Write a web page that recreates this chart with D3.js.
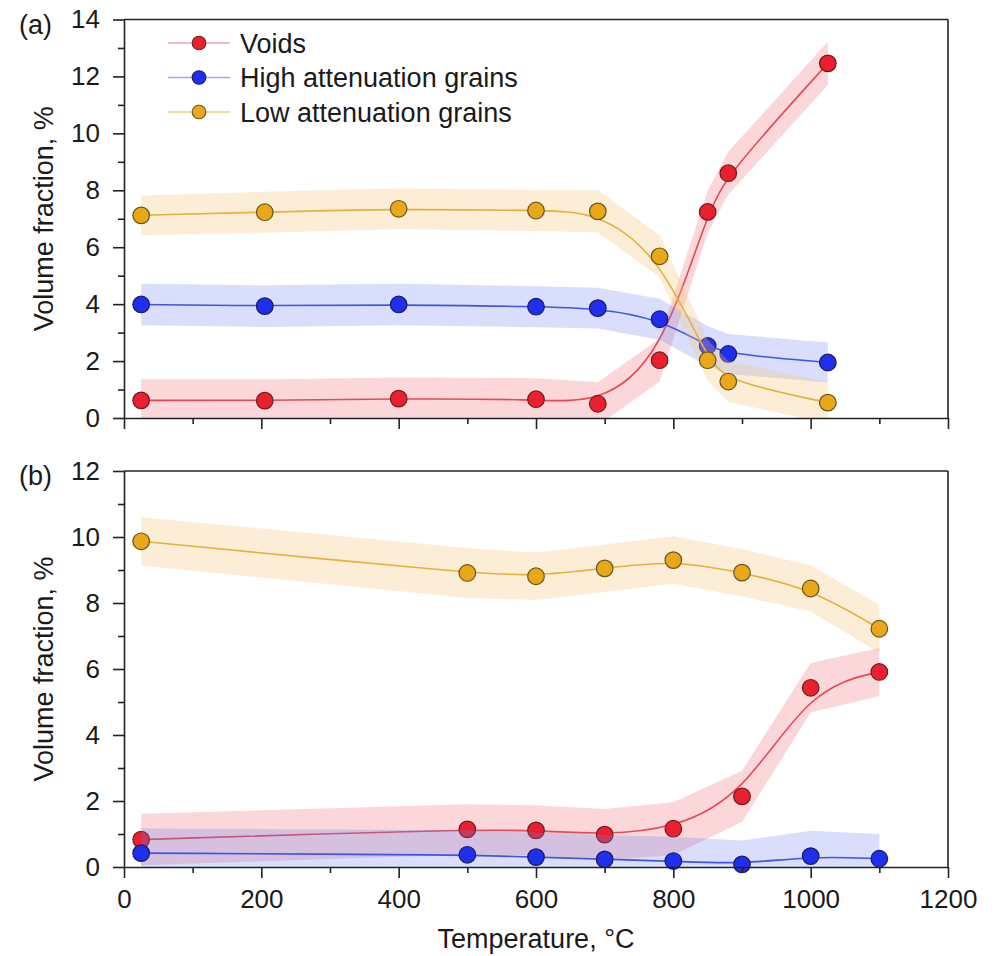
<!DOCTYPE html>
<html><head><meta charset="utf-8">
<script src="https://cdn.jsdelivr.net/npm/d3@7"></script>
<style>
body{margin:0;background:#fff}
text{font-family:"Liberation Sans",Arial,Helvetica,sans-serif;fill:#1a1a1a}
</style>
</head><body><svg id="c" width="999" height="956"></svg>
<script>
// ---------- data ----------
const seriesNames = ["Voids", "High attenuation grains", "Low attenuation grains"];
const xTicks = [0, 200, 400, 600, 800, 1000, 1200];
const yTicksA = [0, 2, 4, 6, 8, 10, 12, 14];
const yTicksB = [0, 2, 4, 6, 8, 10, 12];

// panel (a)
const tempA  = [25, 205, 400, 600, 690, 780, 850, 880, 1025];
const voidsA = [0.62, 0.61, 0.68, 0.66, 0.50, 2.03, 7.24, 8.60, 12.46];
const highA  = [3.99, 3.93, 3.99, 3.91, 3.86, 3.47, 2.53, 2.25, 1.95];
const lowA   = [7.12, 7.23, 7.35, 7.29, 7.26, 5.68, 2.03, 1.28, 0.54];
const voidsErrA = [0.74, 0.74, 0.74, 0.74, 0.76, 0.76, 0.75, 0.75, 0.76];
const highErrA  = [0.73, 0.73, 0.73, 0.72, 0.72, 0.72, 0.70, 0.70, 0.70];
const lowErrA   = [0.70, 0.72, 0.72, 0.72, 0.74, 0.74, 0.72, 0.72, 0.72];

// panel (b)
const tempB  = [25, 500, 600, 700, 800, 900, 1000, 1100];
const voidsB = [0.83, 1.14, 1.11, 0.98, 1.16, 2.14, 5.43, 5.91];
const highB  = [0.42, 0.37, 0.30, 0.23, 0.18, 0.08, 0.33, 0.25];
const lowB   = [9.87, 8.91, 8.81, 9.05, 9.30, 8.92, 8.44, 7.22];
const voidsErrB = [0.78, 0.76, 0.76, 0.78, 0.80, 0.78, 0.75, 0.73];
const highErrB  = [0.75, 0.74, 0.74, 0.74, 0.74, 0.72, 0.77, 0.75];
const lowErrB   = [0.73, 0.76, 0.72, 0.72, 0.72, 0.72, 0.70, 0.73];

// ---------- styles ----------
const colors = [
  {fill:"#E8202F", stroke:"#6e1c1c", line:"#E34A55", band:"rgba(238,100,112,0.26)", legLine:"#EBA3A8"},
  {fill:"#1F2EEF", stroke:"#1c1c5c", line:"#4153E3", band:"rgba(110,128,245,0.26)", legLine:"#A0A8EE"},
  {fill:"#E9A71A", stroke:"#6b5418", line:"#E2B13E", band:"rgba(245,200,120,0.30)", legLine:"#E9CF8A"}
];

const svg = d3.select("#c");
const x = d3.scaleLinear().domain([0, 1200]).range([124, 948]);

function panel(yScale, temps, series, errs, yTicks, showXLabels, tag, clipId) {
  const g = svg.append("g");
  const [y0, y1] = yScale.range();
  g.append("clipPath").attr("id", clipId).append("rect")
    .attr("x", x(0)).attr("y", y1).attr("width", x(1200) - x(0)).attr("height", y0 - y1);

  const area = d3.area().x(d => x(d.t)).y0(d => yScale(d.v - d.e)).y1(d => yScale(d.v + d.e));
  const line = d3.line().x(d => x(d.t)).y(d => yScale(d.v)).curve(d3.curveBasis);

  series.forEach((vals, i) => {
    const pts = temps.map((t, k) => ({t, v: vals[k], e: errs[i][k]}));
    const c = colors[i];
    const sg = g.append("g").attr("clip-path", `url(#${clipId})`);
    sg.append("path").datum(pts).attr("d", area).attr("fill", c.band).attr("stroke", "none");
    sg.append("path").datum(pts).attr("d", line).attr("fill", "none")
      .attr("stroke", c.line).attr("stroke-width", 1.6);
    g.selectAll(null).data(pts).enter().append("circle")
      .attr("cx", d => x(d.t)).attr("cy", d => yScale(d.v)).attr("r", 8.3)
      .attr("fill", c.fill).attr("stroke", c.stroke).attr("stroke-width", 1.2);
  });

  // frame top/right
  g.append("line").attr("x1", x(0)).attr("x2", x(1200)).attr("y1", y1).attr("y2", y1)
    .attr("stroke", "#222").attr("stroke-width", 1.6);
  g.append("line").attr("x1", x(1200)).attr("x2", x(1200)).attr("y1", y1).attr("y2", y0)
    .attr("stroke", "#222").attr("stroke-width", 1.6);

  // y axis
  const yMinor = d3.range(yTicks[0] + 1, yTicks[yTicks.length - 1], 2);
  const ya = g.append("g").attr("transform", `translate(${x(0)},0)`)
    .call(d3.axisLeft(yScale).tickValues(yTicks).tickSize(11).tickSizeOuter(0).tickPadding(13).tickFormat(d3.format("d")));
  g.append("g").attr("transform", `translate(${x(0)},0)`)
    .call(d3.axisLeft(yScale).tickValues(yMinor).tickSize(6).tickSizeOuter(0).tickFormat(""))
    .select(".domain").remove();
  // x axis
  const xMinor = d3.range(100, 1200, 200);
  const xa = g.append("g").attr("transform", `translate(0,${y0})`)
    .call(d3.axisBottom(x).tickValues(xTicks).tickSize(11).tickSizeOuter(0).tickPadding(12)
      .tickFormat(showXLabels ? d3.format("d") : ""));
  g.append("g").attr("transform", `translate(0,${y0})`)
    .call(d3.axisBottom(x).tickValues(xMinor).tickSize(6).tickSizeOuter(0).tickFormat(""))
    .select(".domain").remove();

  g.selectAll(".domain").attr("stroke", "#222").attr("stroke-width", 1.6);
  g.selectAll(".tick line").attr("stroke", "#222").attr("stroke-width", 1.6);
  g.selectAll(".tick text").attr("font-size", 26).attr("fill", "#1a1a1a")
    .attr("font-family", '"Liberation Sans",Arial,sans-serif');

  // y title
  g.append("text").attr("transform", `translate(53,${(y0 + y1) / 2}) rotate(-90)`)
    .attr("text-anchor", "middle").attr("font-size", 27).text("Volume fraction, %");
  // panel tag
  g.append("text").attr("x", 19).attr("y", y1 + 14).attr("font-size", 27).text(tag);
}

const yA = d3.scaleLinear().domain([0, 14]).range([418, 19.5]);
const yB = d3.scaleLinear().domain([0, 12]).range([867, 471]);

panel(yA, tempA, [voidsA, highA, lowA], [voidsErrA, highErrA, lowErrA], yTicksA, false, "(a)", "clipA");
panel(yB, tempB, [voidsB, highB, lowB], [voidsErrB, highErrB, lowErrB], yTicksB, true, "(b)", "clipB");

// x title
svg.append("text").attr("x", x(600)).attr("y", 948).attr("text-anchor", "middle")
  .attr("font-size", 27).text("Temperature, °C");

// legend
const legY = [43, 77.5, 112];
const leg = svg.append("g");
seriesNames.forEach((name, i) => {
  const c = colors[i];
  leg.append("line").attr("x1", 168).attr("x2", 230).attr("y1", legY[i]).attr("y2", legY[i])
    .attr("stroke", c.legLine).attr("stroke-width", 1.6);
  leg.append("circle").attr("cx", 199).attr("cy", legY[i]).attr("r", 6.8)
    .attr("fill", c.fill).attr("stroke", c.stroke).attr("stroke-width", 1.1);
  leg.append("text").attr("x", 240).attr("y", legY[i]).attr("dy", "0.36em")
    .attr("font-size", 27).text(name);
});
</script></body></html>
